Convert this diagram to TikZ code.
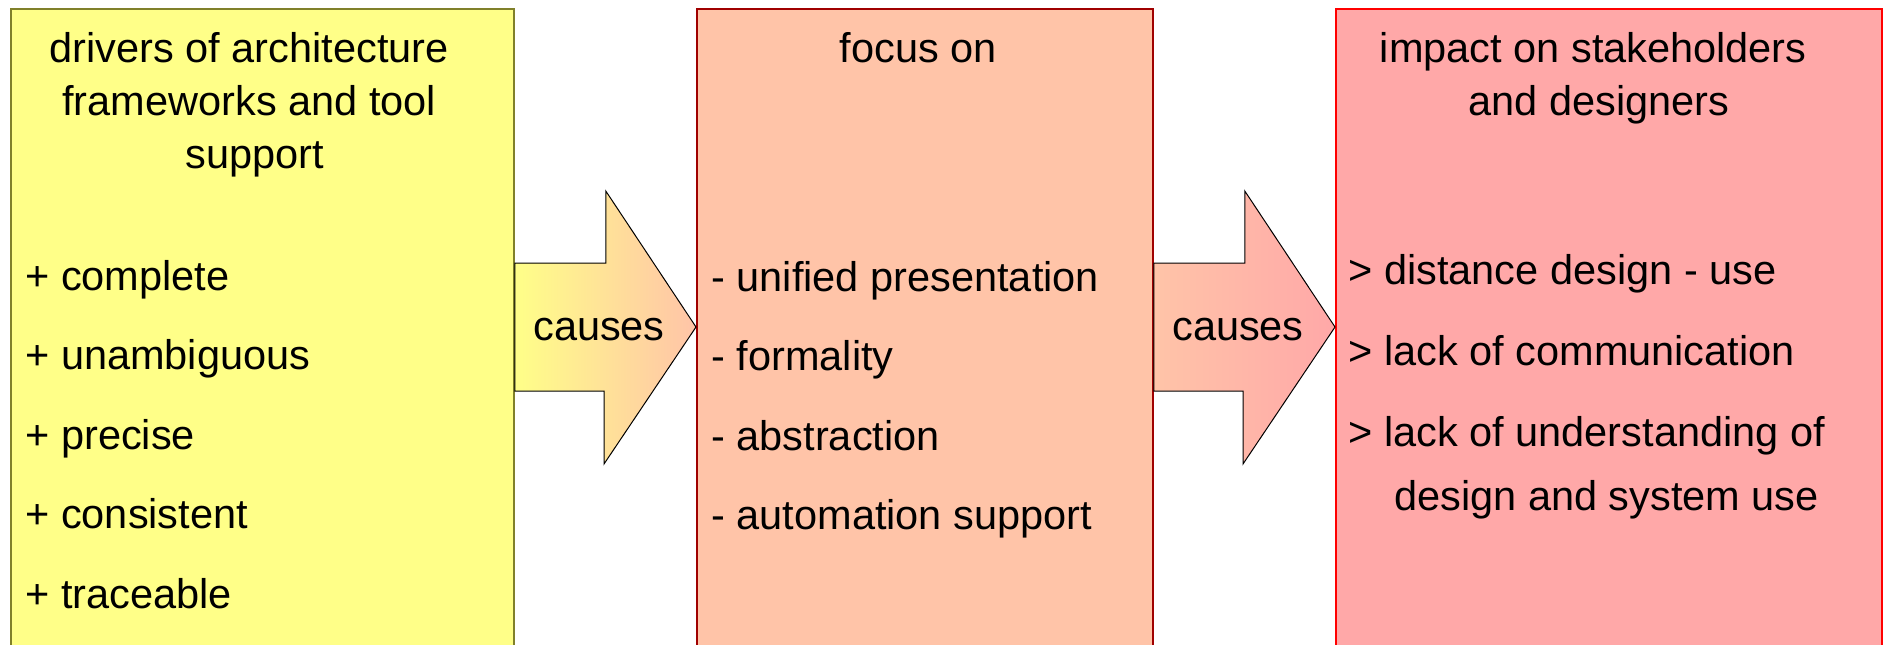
\documentclass[tikz,border=0pt]{standalone}
\usepackage{fontspec}
\setmainfont{Liberation Sans}
\usetikzlibrary{calc}

\definecolor{driverfill}{HTML}{FFFF88}
\definecolor{driverline}{HTML}{80802A}
\definecolor{focusfill}{HTML}{FFC4A8}
\definecolor{focusline}{HTML}{A00000}
\definecolor{impactfill}{HTML}{FFA8A8}
\definecolor{impactline}{HTML}{FF0000}

% stacked lines whose reference point is the first baseline
\newcommand\centrestack[1]{\begin{tabular}[t]{@{}c@{}}#1\end{tabular}}
\newcommand\leftstack[1]{\begin{tabular}[t]{@{}l@{}}#1\end{tabular}}
% width of a word space, kept at the end of a centred line
\newcommand\trail{\kern5.77pt}

\begin{document}
\begin{tikzpicture}[x=0.5pt,y=-0.5pt,
  panel/.style={draw, line width=0.9pt, anchor=north west, inner sep=0pt,
                minimum height=326pt},
  txt/.style={inner sep=0pt, font=\fontsize{20.75}{26.5}\selectfont},
  flow/.style={draw=black, line width=0.5pt, line join=miter}]
\useasboundingbox (0,0) rectangle (1883,644);
\clip (0,0) rectangle (1883,644);

% three columns, open at the bottom
\node[panel, fill=driverfill, draw=driverline, minimum width=251.5pt] (drivers) at (10,8) {};
\node[panel, fill=focusfill, draw=focusline, minimum width=228pt] (focus) at (696,8) {};
\node[panel, fill=impactfill, draw=impactline, minimum width=273pt] (impact) at (1335,8) {};

% block arrows between the columns
\draw[flow, left color=driverfill, right color=focusfill]
  ($(drivers.north east)+(0,255)$) -- ++(91,0) -- ++(0,-72)
  -- ($(focus.north west)+(0,319)$) -- ++(-92,137) -- ++(0,-73)
  -- ($(drivers.north east)+(0,383)$) -- cycle;
\draw[flow, left color=focusfill, right color=impactfill]
  ($(focus.north east)+(0,255)$) -- ++(91,0) -- ++(0,-72)
  -- ($(impact.north west)+(0,319)$) -- ++(-92,137) -- ++(0,-73)
  -- ($(focus.north east)+(0,383)$) -- cycle;
\node[txt, anchor=base] (causesA) at (599,340) {causes};
\node[txt, anchor=base] (causesB) at (1238,340) {causes};

% headings
\node[txt, anchor=base] (driversTitle) at (255,62)
  {\centrestack{drivers of architecture\trail\\ frameworks and tool\trail\\ support}};
\node[txt, anchor=base] (focusTitle) at (924,62) {focus on\trail};
\node[txt, anchor=base] (impactTitle) at (1599,62)
  {\centrestack{impact on stakeholders\trail\\ and designers}};

% lists
\node[txt, anchor=base west] (driversList) at (25,290)
  {\renewcommand\arraystretch{1.5}%
   \leftstack{+ complete\\ + unambiguous\\ + precise\\ + consistent\\ + traceable}};
\node[txt, anchor=base west] (focusList) at (711,291)
  {\renewcommand\arraystretch{1.5}%
   \leftstack{- unified presentation\\ - formality\\ - abstraction\\ - automation support}};
\node[txt, anchor=base west] (impactList) at (1348,284)
  {\leftstack{> distance design - use\\[14pt] > lack of communication\\[14pt]
   > lack of understanding of\\[5.5pt] \hspace*{23pt}design and system use}};
\end{tikzpicture}
\end{document}
